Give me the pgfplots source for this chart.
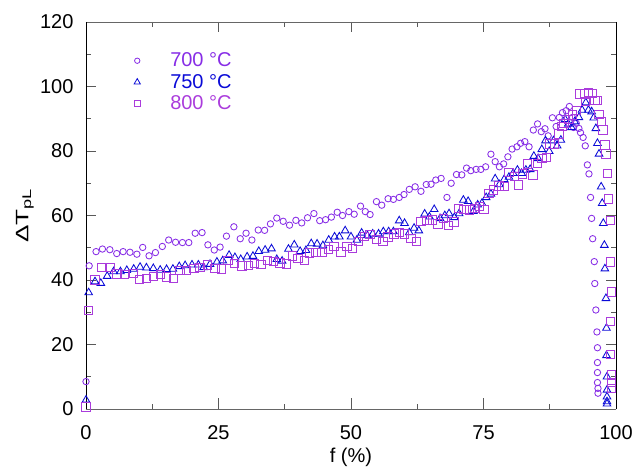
\documentclass[border=0pt]{standalone}
\usepackage{graphicx}
\usepackage{pgfplots}
\pgfplotsset{compat=1.18}
\usepackage{fontspec}
\setmainfont{Liberation Sans}
\definecolor{cA}{RGB}{135,45,230}
\definecolor{cB}{RGB}{10,10,215}
\definecolor{cC}{RGB}{170,60,220}
\pgfplotsset{myleg/.style={legend image code/.code={\path[draw=none, fill=none] (0bp,-1bp) rectangle (38bp,1bp); \draw[mark repeat=2, mark phase=2, ##1] plot coordinates {(0bp,0bp)(6bp,0bp)(38bp,0bp)};}}}
\begin{document}
\begin{tikzpicture}[font=\fontsize{20bp}{24bp}\selectfont]
\path[use as bounding box] (-86bp,-61bp) rectangle (550bp,409bp);
\begin{axis}[
  at={(0,0)}, anchor=south west,
  scale only axis, width=530bp, height=387bp,
  xmin=0, xmax=100, ymin=0, ymax=120,
  xtick={0,25,50,75,100}, ytick={0,20,...,120},
  minor x tick num=1, minor y tick num=1,
  tick align=inside,
  major tick length=10.5bp, minor tick length=5.5bp,
  /pgf/number format/assume math mode=true,
  xticklabel style={yshift=-13bp},
  yticklabel style={xshift=-9bp},
  separate axis lines,
  x axis line style={draw=black!60, line width=0.9bp},
  y axis line style={draw=black, line width=0.9bp},
  every tick/.style={black!65, line width=0.9bp},
  xlabel={f (\%)},
  xlabel style={at={(axis description cs:0.5,0)}, anchor=center, yshift=-48bp},
  ylabel={\scalebox{1.45}[1]{ΔT\textsubscript{pL}}},
  ylabel style={at={(axis description cs:-0.1085,0.5)}, anchor=base, font=\fontsize{18bp}{22bp}\selectfont},
  legend style={at={(axis description cs:0.085,0.923)}, anchor=north west, draw=none, fill=none, inner sep=0pt, row sep=4bp, nodes={inner sep=1bp}},
  legend cell align=left,
]
\addlegendimage{only marks, mark=o, mark size=2.7bp, cA, mark options={line width=0.8bp}, myleg}
\addlegendentry{\textcolor{cA}{700 °C}}
\addlegendimage{only marks, mark=triangle, mark size=3.6bp, cB, mark options={line width=0.8bp}, myleg}
\addlegendentry{\textcolor{cB}{750 °C}}
\addlegendimage{only marks, mark=square, mark size=3.2bp, cC, mark options={line width=0.8bp}, myleg}
\addlegendentry{\textcolor{cC}{800 °C}}

\addplot[forget plot, only marks, mark=o, mark size=3.2bp, cA, mark options={line width=0.85bp}] coordinates {
(0,8.5)(0.6,44.4)(1.9,48.8)(3.1,49.6)(4.5,49.4)(5.8,48.2)(7.0,48.8)(8.3,48.6)(9.6,48.0)(10.7,50.1)
(11.9,47.5)(13.1,48.5)(14.4,50.4)(15.6,52.4)(16.9,51.7)(18.2,51.6)(19.4,51.6)(20.6,54.5)(21.9,54.7)(23.0,50.9)
(24.2,49.3)(25.3,50.2)(26.5,53.6)(27.9,56.5)(29.1,52.8)(30.2,54.5)(31.3,52.4)(32.5,55.5)(33.7,55.4)(34.8,57.4)
(36.0,59.2)(37.2,58.2)(38.4,57.0)(39.6,58.5)(40.7,57.7)(41.8,59.3)(43.0,60.6)(44.1,58.4)(45.2,58.7)(46.3,59.5)
(47.4,61.0)(48.4,60.0)(49.6,61.2)(50.6,60.4)(51.8,62.9)(52.7,61.2)(53.6,60.3)(54.8,64.3)(55.8,63.2)(57.0,65.2)
(58.0,65.0)(59.1,65.6)(60.0,66.5)(61.0,68.1)(62.1,68.9)(63.2,67.5)(64.2,69.6)(65.1,69.7)(66.0,71.0)(67.0,71.5)
(68.1,65.6)(68.9,70.0)(69.9,72.7)(70.9,72.6)(71.8,74.7)(72.6,73.9)(73.6,74.3)(74.5,74.3)(75.4,75.1)(76.4,79.0)
(77.2,76.7)(78.0,75.1)(78.8,76.0)(79.6,78.2)(80.4,80.6)(81.3,81.3)(82.0,82.4)(82.8,82.9)(83.6,81.3)(84.4,86.5)
(85.2,88.4)(85.9,86.0)(86.6,86.9)(87.2,84.7)(88.0,90.3)(88.7,87.6)(89.3,90.4)(89.9,91.9)(90.6,92.5)(91.2,93.8)
(91.8,90.4)(92.0,87.3)(92.5,88.6)(93.0,87.0)(93.3,85.7)(93.8,84.2)(94.2,81.6)(94.6,75.7)(94.9,72.9)(95.2,65.6)
(95.4,59.1)(95.6,52.8)(95.9,45.7)(96.0,38.9)(96.2,30.7)(96.4,23.9)(96.5,19.0)(96.5,14.4)(96.5,11.3)(96.5,8.2)
(96.6,6.4)(96.6,4.9)
};
\addplot[forget plot, only marks, mark=triangle, mark size=4.4bp, cB, mark options={line width=0.85bp}] coordinates {
(0,2.8)(0.5,36.1)(1.7,39.5)(2.8,39.0)(4.0,41.2)(5.2,42.6)(6.5,42.6)(7.7,43.0)(9.0,43.4)(10.2,44.0)
(11.4,43.8)(12.7,43.6)(14.0,43.1)(15.2,43.3)(16.4,43.4)(17.6,44.2)(18.7,44.5)(20.0,44.7)(21.2,44.7)(22.2,43.9)
(23.4,44.9)(24.7,45.6)(25.8,46.0)(27.0,47.7)(28.1,47.0)(29.2,46.4)(30.4,47.2)(31.5,47.4)(32.6,48.9)(33.8,49.3)
(35.0,49.7)(36.0,46.4)(37.0,45.9)(38.2,49.6)(39.3,50.9)(40.4,48.9)(41.5,49.2)(42.5,51.3)(43.6,51.2)(44.7,50.7)
(45.8,52.4)(46.9,53.4)(47.8,53.4)(48.9,55.3)(50.0,53.4)(51.1,52.4)(52.0,54.6)(53.1,53.8)(54.1,54.3)(55.2,54.3)
(56.1,55.0)(57.1,55.0)(58.0,55.0)(59.1,58.4)(60.1,57.6)(61.0,54.7)(61.9,56.1)(62.8,55.3)(63.9,60.5)(64.8,59.6)
(65.7,61.9)(66.8,59.1)(67.7,60.0)(68.5,60.6)(69.5,59.4)(70.4,60.6)(71.2,64.8)(72.1,64.4)(73.1,61.3)(73.9,63.3)
(74.7,63.8)(75.5,65.6)(76.4,66.7)(77.2,71.4)(78.0,69.6)(78.9,71.2)(79.8,71.9)(80.6,73.1)(81.4,74.1)(82.2,73.1)
(83.0,74.1)(83.8,74.3)(84.5,78.4)(85.3,77.7)(86.0,80.5)(86.7,83.2)(87.4,79.9)(88.2,83.2)(88.9,81.6)(89.6,83.4)
(90.4,89.8)(91.0,88.4)(91.6,87.3)(92.2,89.1)(93.0,90.4)(93.6,92.7)(94.3,95.0)(94.8,92.7)(95.4,92.2)(95.8,90.3)
(96.2,87.0)(96.5,82.4)(96.8,79.1)(97.2,68.9)(97.4,63.8)(97.6,57.6)(97.8,50.8)(97.9,43.5)(98.1,34.3)(98.2,25.1)
(98.2,16.6)(98.3,10.0)(98.3,5.9)(98.3,3.8)(98.3,2.3)(98.3,1.6)
};
\addplot[forget plot, only marks, mark=square, mark size=4.2bp, cC, mark options={line width=0.85bp}] coordinates {
(0,0.7)(0.5,30.5)(1.7,40.0)(3.0,43.9)(4.5,43.9)(5.8,41.9)(7.2,41.8)(8.9,42.1)(10.1,40.2)(11.4,40.5)
(12.7,41.1)(14.0,41.8)(15.2,41.0)(16.5,40.4)(17.7,42.9)(19.0,42.9)(20.4,43.5)(21.5,43.9)(22.9,44.7)(24.3,43.5)
(25.6,43.4)(26.8,46.0)(28.0,45.1)(29.4,44.4)(30.6,44.5)(31.8,45.2)(33.0,44.8)(34.2,46.0)(35.4,45.7)(36.6,45.3)
(37.8,45.0)(38.9,47.5)(40.0,46.6)(41.2,46.0)(42.2,48.4)(43.4,48.6)(44.5,48.5)(45.7,49.5)(46.8,50.5)(48.1,48.7)
(49.2,50.5)(50.3,49.7)(51.4,51.9)(52.5,53.5)(53.6,54.2)(54.8,52.6)(56.0,51.9)(57.0,53.4)(58.1,54.3)(59.1,54.7)
(60.1,54.3)(61.3,52.9)(62.3,51.9)(63.2,58.1)(64.3,58.4)(65.4,58.6)(66.4,57.4)(67.4,59.0)(68.4,57.0)(69.4,58.0)
(70.3,62.2)(71.3,61.9)(72.3,61.7)(73.3,62.2)(74.2,62.9)(75.1,61.9)(76.0,66.9)(76.9,67.9)(77.9,69.2)(78.9,69.1)
(79.8,73.3)(80.8,72.2)(81.6,69.5)(82.4,72.9)(83.3,76.0)(84.3,72.6)(85.2,76.2)(86.0,77.7)(86.9,78.0)(87.5,82.2)
(88.4,82.2)(89.2,85.3)(89.8,87.6)(90.2,88.6)(91.0,89.8)(91.8,91.2)(92.5,92.5)(93.2,97.7)(94.0,97.7)(94.2,95.3)
(94.8,98.1)(95.6,97.9)(96.0,95.6)(96.5,95.6)(96.8,91.4)(97.2,89.1)(97.5,86.5)(97.9,81.9)(98.1,79.1)(98.4,73.1)
(98.6,65.2)(98.9,58.4)(98.9,45.6)(99.1,36.3)(99.0,27.1)(99.0,16.9)(99.1,10.6)(99.1,8.2)(99.1,6.4)
};
\end{axis}
\end{tikzpicture}
\end{document}
